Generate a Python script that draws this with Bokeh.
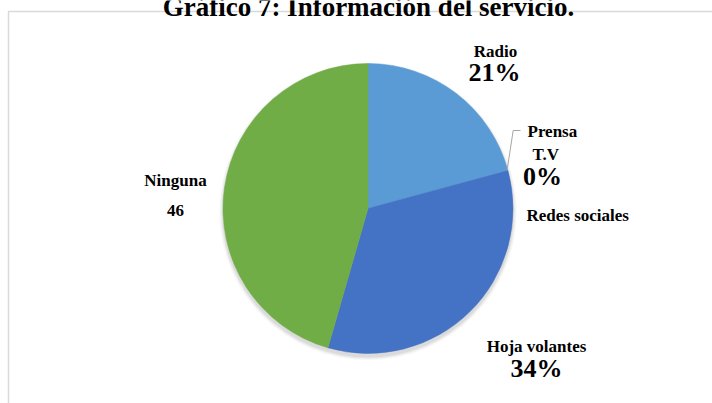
import math
from bokeh.plotting import figure
from bokeh.models import Range1d, ColumnDataSource
from bokeh.core.properties import value
from bokeh.embed import file_html
from bokeh.resources import INLINE

# ---- data ----
categories = ["Radio", "Prensa", "T.V", "Redes sociales", "Hoja volantes", "Ninguna"]
values = [21, 0, 0, 0, 34, 46]
label_values = ["21%", "0%", "0%", "0%", "34%", "46"]
colors = ["#5B9BD5", "#ED7D31", "#A5A5A5", "#FFC000", "#4472C4", "#70AD47"]
title = "Gráfico 7: Información del servicio."

W, H = 712, 403
FONT = "Liberation Serif"

p = figure(width=W, height=H, output_backend="svg", toolbar_location=None,
           x_range=Range1d(0, W), y_range=Range1d(0, H), min_border=0,
           outline_line_color=None)
p.axis.visible = False
p.grid.visible = False
p.background_fill_color = "white"
p.border_fill_color = "white"

def sy(y):
    return H - y

# chart area border (left + top)
p.line([8, 8, W], [0, sy(11), sy(11)], line_color="#D9D9D9", line_width=1.5)

# pie geometry
cx, cy, r = 367.5, sy(208), 145

# soft shadow
for k, a in enumerate([0.05, 0.04, 0.03, 0.02]):
    p.circle(x=[cx], y=[cy - 3], radius=r + 1 + k, fill_color="#000000",
             fill_alpha=a, line_color=None)

total = sum(values)
cum = 0
starts, ends, cols = [], [], []
for v, c in zip(values, colors):
    a0 = math.pi / 2 - 2 * math.pi * cum / total
    cum += v
    a1 = math.pi / 2 - 2 * math.pi * cum / total
    if v > 0:
        starts.append(a0)
        ends.append(a1)
        cols.append(c)
src = ColumnDataSource(dict(start=starts, end=ends, color=cols))
p.wedge(x=cx, y=cy, radius=r, start_angle="start", end_angle="end",
        direction="clock", fill_color="color", line_color="color",
        line_width=0.5, source=src)

# leader line for zero slices
p.line([506.5, 512.7, 520], [sy(170), sy(130), sy(130)], line_color="#A6A6A6", line_width=1)

def txt(x, y, s, size):
    p.text(x=[x], y=[sy(y)], text=[s], text_font=value(FONT), text_font_style="bold",
           text_font_size=f"{size}px", text_align="center", text_baseline="middle",
           text_color="black")

# labels
txt(495, 51, categories[0], 17)
txt(494, 72, label_values[0], 26)
p.text(x=[527], y=[sy(131)], text=[categories[1]], text_font=value(FONT), text_font_style="bold",
       text_font_size="17px", text_align="left", text_baseline="middle", text_color="black")
p.text(x=[532], y=[sy(154)], text=[categories[2]], text_font=value(FONT), text_font_style="bold",
       text_font_size="17px", text_align="left", text_baseline="middle", text_color="black")
txt(542, 176, label_values[1], 26)
p.text(x=[526], y=[sy(215)], text=[categories[3]], text_font=value(FONT), text_font_style="bold",
       text_font_size="17px", text_align="left", text_baseline="middle", text_color="black")
txt(536, 346, categories[4], 17)
txt(536, 368, label_values[4], 26)
txt(175, 180, categories[5], 17)
txt(175, 210, label_values[5], 17)

# title (clipped at top)
p.text(x=[368], y=[sy(6)], text=[title], text_font=value(FONT), text_font_style="bold",
       text_font_size="27px", text_align="center", text_baseline="alphabetic",
       text_color="black")

open("out.html", "w").write(file_html(p, INLINE))
